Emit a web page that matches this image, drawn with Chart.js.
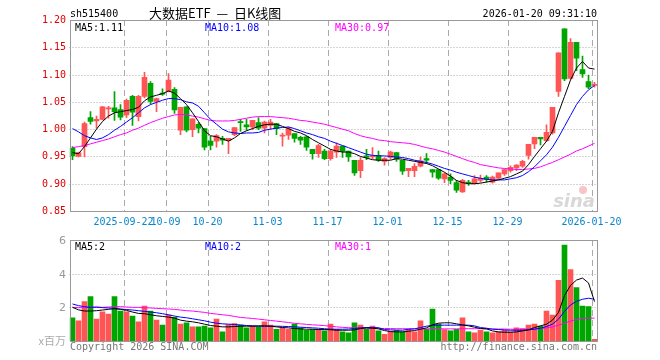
<!DOCTYPE html>
<html>
<head>
<meta charset="utf-8">
<script src="https://cdn.jsdelivr.net/npm/chart.js@4.4.1/dist/chart.umd.min.js"></script>
<style>
  body { margin: 0; background: #fff; }
  #wrap { position: relative; width: 660px; height: 360px; }
  canvas { position: absolute; left: 0; }
</style>
</head>
<body>
<div id="wrap">
  <canvas id="kline" width="660" height="232" style="top:0"></canvas>
  <canvas id="vol" width="660" height="128" style="top:232px"></canvas>
</div>
<script>
// trading days shown on the chart
const dates = [
  '2025-09-09','2025-09-10','2025-09-11','2025-09-12','2025-09-15','2025-09-16','2025-09-17','2025-09-18','2025-09-19',
  '2025-09-22','2025-09-23','2025-09-24','2025-09-25','2025-09-26','2025-09-29','2025-09-30',
  '2025-10-09','2025-10-10','2025-10-13','2025-10-14','2025-10-15','2025-10-16','2025-10-17',
  '2025-10-20','2025-10-21','2025-10-22','2025-10-23','2025-10-24','2025-10-27','2025-10-28','2025-10-29','2025-10-30','2025-10-31',
  '2025-11-03','2025-11-04','2025-11-05','2025-11-06','2025-11-07','2025-11-10','2025-11-11','2025-11-12','2025-11-13','2025-11-14',
  '2025-11-17','2025-11-18','2025-11-19','2025-11-20','2025-11-21','2025-11-24','2025-11-25','2025-11-26','2025-11-27','2025-11-28',
  '2025-12-01','2025-12-02','2025-12-03','2025-12-04','2025-12-05','2025-12-08','2025-12-09','2025-12-10','2025-12-11','2025-12-12',
  '2025-12-15','2025-12-16','2025-12-17','2025-12-18','2025-12-19','2025-12-22','2025-12-23','2025-12-24','2025-12-25','2025-12-26',
  '2025-12-29','2025-12-30','2025-12-31','2026-01-05','2026-01-06','2026-01-07','2026-01-08','2026-01-09',
  '2026-01-12','2026-01-13','2026-01-14','2026-01-15','2026-01-16','2026-01-19','2026-01-20'
];
const tickIdx  = [9, 16, 23, 33, 43, 53, 63, 73, 87];
const tickText = ['2025-09-22','10-09','10-20','11-03','11-17','12-01','12-15','12-29','2026-01-20'];
const priceTicks = [1.20, 1.15, 1.10, 1.05, 1.00, 0.95, 0.90, 0.85];
const volTicks = [6, 4, 2];

const open = [0.965,0.950,0.968,1.021,1.015,1.018,1.037,1.039,1.036,1.026,1.060,1.023,1.060,1.084,1.051,1.066,1.069,1.073,0.998,1.041,
  0.999,1.009,1.001,0.978,0.978,0.983,0.979,0.990,1.013,1.008,1.004,1.012,1.002,1.007,1.010,0.987,0.989,0.992,0.985,0.986,
  0.963,0.955,0.960,0.946,0.958,0.969,0.960,0.943,0.924,0.951,0.949,0.952,0.941,0.948,0.957,0.943,0.924,0.924,0.932,0.946,
  0.926,0.926,0.909,0.912,0.902,0.885,0.903,0.900,0.906,0.912,0.903,0.910,0.918,0.924,0.929,0.932,0.952,0.973,0.985,0.979,
  0.993,1.069,1.184,1.093,1.159,1.109,1.087,1.080];
const high = [0.968,0.958,1.013,1.032,1.024,1.042,1.042,1.069,1.045,1.055,1.062,1.062,1.104,1.087,1.057,1.074,1.102,1.076,1.040,1.041,
  1.019,1.012,1.001,0.987,0.990,0.987,0.983,1.003,1.018,1.018,1.016,1.021,1.015,1.018,1.010,0.993,1.004,0.992,0.987,0.987,
  0.963,0.972,0.963,0.963,0.975,0.969,0.960,0.943,0.948,0.963,0.966,0.960,0.948,0.960,0.957,0.943,0.928,0.937,0.949,0.955,
  0.926,0.926,0.920,0.918,0.906,0.908,0.906,0.915,0.916,0.915,0.914,0.920,0.927,0.933,0.935,0.943,0.972,0.985,0.985,1.008,
  1.040,1.140,1.184,1.166,1.159,1.134,1.099,1.086];
const low = [0.944,0.949,0.949,1.009,1.002,1.017,1.020,1.016,1.017,1.021,1.007,1.015,1.057,1.046,1.032,1.062,1.068,1.029,0.990,0.995,
  0.986,0.993,0.962,0.962,0.967,0.972,0.955,0.988,0.996,0.998,0.999,0.999,0.993,1.000,0.990,0.969,0.981,0.976,0.972,0.961,
  0.945,0.948,0.944,0.943,0.948,0.948,0.941,0.915,0.911,0.944,0.946,0.941,0.934,0.945,0.941,0.917,0.913,0.913,0.931,0.937,
  0.912,0.908,0.902,0.900,0.884,0.884,0.897,0.899,0.903,0.903,0.901,0.909,0.915,0.921,0.924,0.930,0.945,0.964,0.971,0.977,
  0.991,1.060,1.089,1.092,1.107,1.095,1.074,1.077];
const close = [0.951,0.957,1.010,1.014,1.018,1.041,1.039,1.032,1.022,1.053,1.031,1.060,1.095,1.051,1.056,1.064,1.090,1.035,1.040,0.998,
  1.019,1.002,0.967,0.970,0.988,0.980,0.983,1.003,1.012,1.004,1.016,1.002,1.013,1.013,1.001,0.989,1.001,0.983,0.980,0.967,
  0.955,0.970,0.946,0.960,0.969,0.959,0.949,0.920,0.943,0.948,0.951,0.943,0.946,0.958,0.945,0.923,0.928,0.932,0.942,0.943,
  0.921,0.910,0.918,0.906,0.888,0.906,0.901,0.909,0.910,0.908,0.912,0.920,0.926,0.930,0.934,0.941,0.972,0.985,0.982,0.994,
  1.040,1.140,1.092,1.159,1.130,1.101,1.077,1.082];

const ma5 = [0.957,0.955,0.968,0.984,1.000,1.014,1.024,1.030,1.032,1.034,1.036,1.040,1.052,1.059,1.062,1.065,1.070,1.066,1.056,1.045,
  1.030,1.014,0.997,0.988,0.986,0.982,0.978,0.984,0.992,0.997,1.001,1.005,1.008,1.009,1.009,1.005,1.001,0.996,0.993,0.988,
  0.981,0.975,0.969,0.963,0.960,0.958,0.958,0.955,0.950,0.947,0.944,0.943,0.943,0.943,0.946,0.945,0.943,0.941,0.939,0.937,
  0.933,0.927,0.921,0.914,0.906,0.902,0.900,0.900,0.901,0.903,0.905,0.907,0.910,0.913,0.918,0.923,0.935,0.950,0.964,0.978,
  0.996,1.030,1.060,1.090,1.112,1.124,1.112,1.110];
const ma10 = [1.001,0.995,0.988,0.984,0.981,0.984,0.990,0.998,1.005,1.013,1.021,1.030,1.039,1.045,1.049,1.053,1.056,1.056,1.054,1.050,
  1.048,1.042,1.030,1.018,1.009,1.000,0.995,0.993,0.992,0.993,0.993,0.994,0.998,1.000,1.002,1.003,1.004,1.001,0.997,0.993,
  0.990,0.986,0.983,0.978,0.974,0.970,0.966,0.962,0.958,0.954,0.952,0.951,0.951,0.950,0.949,0.948,0.946,0.943,0.941,0.939,
  0.936,0.932,0.928,0.925,0.921,0.918,0.915,0.912,0.910,0.908,0.907,0.907,0.907,0.909,0.911,0.915,0.922,0.931,0.942,0.953,
  0.967,0.985,1.005,1.025,1.045,1.060,1.072,1.080];
const ma30 = [0.966,0.968,0.970,0.973,0.976,0.979,0.982,0.986,0.990,0.993,0.998,1.002,1.007,1.012,1.016,1.020,1.023,1.026,1.027,1.026,
  1.024,1.022,1.019,1.016,1.015,1.015,1.015,1.016,1.018,1.020,1.022,1.023,1.023,1.023,1.022,1.021,1.020,1.018,1.016,1.015,
  1.013,1.011,1.009,1.006,1.003,1.000,0.997,0.992,0.988,0.985,0.983,0.980,0.979,0.977,0.976,0.975,0.974,0.972,0.969,0.966,
  0.964,0.961,0.958,0.954,0.950,0.946,0.942,0.939,0.935,0.933,0.931,0.929,0.928,0.927,0.926,0.926,0.927,0.928,0.931,0.935,
  0.939,0.944,0.949,0.954,0.960,0.964,0.969,0.974];

// volume, millions
const vol = [1.38,1.20,2.34,2.64,1.30,1.74,1.60,2.64,1.78,1.74,1.48,1.14,2.08,1.78,1.24,0.94,1.54,1.40,1.00,1.08,
  0.84,0.84,0.88,0.78,1.30,0.54,0.98,1.04,0.94,0.78,0.88,0.84,1.14,0.94,0.70,0.78,0.70,1.00,0.78,0.64,
  0.68,0.70,0.60,1.00,0.70,0.54,0.48,1.08,0.94,0.70,0.88,0.60,0.40,0.54,0.64,0.54,0.70,0.54,1.20,0.70,
  1.90,1.00,0.68,0.60,0.70,1.38,0.54,0.48,0.64,0.54,0.48,0.54,0.64,0.54,0.78,0.74,0.94,1.00,0.88,1.78,
  1.54,3.60,5.70,4.24,3.18,2.08,2.04,0.10];
const vma5 = [2.00,1.85,1.78,1.78,1.80,1.84,1.88,1.92,1.88,1.82,1.72,1.64,1.62,1.56,1.50,1.46,1.42,1.36,1.24,1.18,
  1.14,1.08,1.00,0.92,0.88,0.84,0.84,0.86,0.88,0.88,0.88,0.90,0.90,0.88,0.84,0.80,0.78,0.74,0.72,0.70,
  0.70,0.68,0.68,0.67,0.64,0.64,0.64,0.66,0.74,0.78,0.76,0.72,0.62,0.56,0.54,0.54,0.58,0.62,0.70,0.78,
  0.96,1.06,1.08,1.08,1.02,0.96,0.90,0.82,0.74,0.72,0.60,0.54,0.52,0.52,0.54,0.60,0.66,0.80,0.90,1.00,
  1.24,1.70,2.70,3.30,3.62,3.74,3.45,2.34];
const vma10 = [2.20,2.10,2.04,2.00,2.02,1.98,1.96,1.94,1.90,1.87,1.84,1.80,1.76,1.72,1.68,1.62,1.56,1.48,1.42,1.38,
  1.32,1.26,1.20,1.12,1.06,1.02,1.00,0.98,0.95,0.92,0.90,0.88,0.88,0.88,0.88,0.87,0.86,0.84,0.82,0.80,
  0.78,0.76,0.73,0.70,0.70,0.70,0.71,0.74,0.78,0.80,0.80,0.79,0.68,0.66,0.65,0.64,0.70,0.72,0.80,0.88,
  0.93,0.94,0.94,0.94,0.94,0.94,0.94,0.90,0.80,0.76,0.70,0.68,0.66,0.64,0.64,0.64,0.66,0.70,0.76,0.86,
  1.00,1.30,1.76,2.14,2.36,2.48,2.54,2.48];
const vma30 = [2.00,1.98,1.98,1.98,2.00,2.00,2.02,2.04,2.04,2.02,2.00,2.00,1.98,1.96,1.94,1.92,1.90,1.88,1.84,1.80,
  1.78,1.74,1.70,1.64,1.60,1.56,1.52,1.46,1.40,1.37,1.34,1.30,1.26,1.22,1.18,1.14,1.10,1.05,1.02,0.99,
  0.96,0.94,0.91,0.88,0.84,0.81,0.79,0.78,0.77,0.76,0.76,0.75,0.74,0.74,0.73,0.73,0.73,0.72,0.72,0.72,
  0.73,0.73,0.72,0.72,0.72,0.73,0.73,0.73,0.73,0.72,0.72,0.71,0.71,0.70,0.70,0.70,0.71,0.72,0.74,0.78,
  0.84,0.94,1.06,1.18,1.28,1.34,1.36,1.36];

const RED = '#ff5555', GREEN = '#00a600';
const MONO = '10px "DejaVu Sans Mono", monospace';
const colors = close.map((c, i) => c >= open[i] ? RED : GREEN);

// vertical dashed lines sit on the left edge of each labelled day
function dateLines(chart) {
  const { ctx, chartArea: a, scales: { x } } = chart;
  const slot = (a.right - a.left) / dates.length;
  ctx.save();
  ctx.strokeStyle = '#aaa';
  ctx.lineWidth = 1;
  ctx.setLineDash([6, 4]);
  tickIdx.forEach(i => {
    const px = Math.round(x.getPixelForValue(i) - slot / 2) + 0.5;
    ctx.beginPath(); ctx.moveTo(px, a.top); ctx.lineTo(px, a.bottom); ctx.stroke();
  });
  ctx.restore();
}

function dotLines(chart, values) {
  const { ctx, chartArea: a, scales: { y } } = chart;
  ctx.save();
  ctx.strokeStyle = '#aaa';
  ctx.lineWidth = 1;
  ctx.setLineDash([1, 2]);
  values.forEach(v => {
    const py = Math.round(y.getPixelForValue(v)) + 0.5;
    ctx.beginPath(); ctx.moveTo(a.left, py); ctx.lineTo(a.right, py); ctx.stroke();
  });
  ctx.restore();
}

function frame(chart) {
  const { ctx, chartArea: a } = chart;
  ctx.save();
  ctx.strokeStyle = '#999';
  ctx.lineWidth = 1;
  ctx.strokeRect(Math.round(a.left) + 0.5, Math.round(a.top) + 0.5,
    Math.round(a.right) - Math.round(a.left) - 1, Math.round(a.bottom) - Math.round(a.top));
  ctx.restore();
}

function text(ctx, s, x, y, color, font, align) {
  ctx.fillStyle = color;
  ctx.font = font || MONO;
  ctx.textAlign = align || 'left';
  ctx.fillText(s, x, y);
}

const klineDeco = {
  id: 'klineDeco',
  beforeDatasetsDraw(chart) {
    dotLines(chart, priceTicks.slice(1, -1));
    dateLines(chart);
    const { ctx } = chart;
    ctx.save();
    ctx.font = 'italic bold 18px "DejaVu Sans", sans-serif';
    ctx.fillStyle = '#d8d8d8';
    ctx.textAlign = 'right';
    ctx.fillText('sina', 595, 207);
    ctx.fillStyle = 'rgba(240,140,140,0.5)';
    ctx.beginPath(); ctx.arc(583, 190, 4, 0, Math.PI * 2); ctx.fill();
    ctx.restore();
  },
  afterDraw(chart) {
    const { ctx, chartArea: a, scales: { x, y } } = chart;
    frame(chart);
    ctx.save();
    ctx.textBaseline = 'alphabetic';
    text(ctx, 'sh515400', 70, 17, '#000');
    text(ctx, '大数据ETF  —  日K线图', 149, 18, '#000', '13px "Noto Sans CJK SC", sans-serif');
    text(ctx, '2026-01-20 09:31:10', 597, 17, '#000', MONO, 'right');
    text(ctx, 'MA5:' + ma5[ma5.length - 1].toFixed(2), 75, 31, '#000');
    text(ctx, 'MA10:' + ma10[ma10.length - 1].toFixed(2), 205, 31, '#0000ff');
    text(ctx, 'MA30:' + ma30[ma30.length - 1].toFixed(2), 335, 31, '#ff00ff');
    ctx.textBaseline = 'middle';
    priceTicks.forEach(v => text(ctx, v.toFixed(2), 66, Math.round(y.getPixelForValue(v)), '#e00000', MONO, 'right'));
    ctx.textBaseline = 'alphabetic';
    const slot = (a.right - a.left) / dates.length;
    tickIdx.forEach((i, k) => {
      const px = x.getPixelForValue(i) - slot / 2;
      text(ctx, tickText[k], px, 225, '#0a86cf', MONO, 'center');
    });
    ctx.restore();
  }
};

const volDeco = {
  id: 'volDeco',
  beforeDatasetsDraw(chart) {
    dotLines(chart, [4, 2]);
    dateLines(chart);
  },
  afterDraw(chart) {
    const { ctx, scales: { y } } = chart;
    frame(chart);
    ctx.save();
    text(ctx, 'MA5:' + Math.floor(vma5[vma5.length - 1]), 75, 18, '#000');
    text(ctx, 'MA10:' + Math.floor(vma10[vma10.length - 1]), 205, 18, '#0000ff');
    text(ctx, 'MA30:' + Math.floor(vma30[vma30.length - 1]), 335, 18, '#ff00ff');
    ctx.textBaseline = 'middle';
    volTicks.forEach(v => text(ctx, String(v), 66, Math.round(y.getPixelForValue(v)) + 1, '#999', '11px "DejaVu Sans", sans-serif', 'right'));
    ctx.textBaseline = 'alphabetic';
    text(ctx, 'x百万', 66, 113, '#aaa', '11px "Noto Sans CJK SC", sans-serif', 'right');
    text(ctx, 'Copyright 2026 SINA.COM', 70, 118, '#777');
    text(ctx, 'http://finance.sina.com.cn', 597, 118, '#777', MONO, 'right');
    ctx.restore();
  }
};

function maLine(data, color) {
  return { type: 'line', data, borderColor: color, borderWidth: 1, pointRadius: 0, tension: 0, order: 0 };
}

const common = {
  responsive: false,
  animation: false,
  devicePixelRatio: 1,
  events: [],
  plugins: { legend: { display: false }, tooltip: { enabled: false } }
};

new Chart(document.getElementById('kline'), {
  type: 'bar',
  data: {
    labels: dates,
    datasets: [
      maLine(ma5, '#000000'),
      maLine(ma10, '#0000ff'),
      maLine(ma30, '#ff00ff'),
      { data: open.map((o, i) => [o, close[i]]), backgroundColor: colors, barThickness: 5, minBarLength: 1, grouped: false, order: 1 },
      { data: low.map((l, i) => [l, high[i]]), backgroundColor: colors, barThickness: 1, grouped: false, order: 2 }
    ]
  },
  options: {
    ...common,
    layout: { padding: { left: 69.5, right: 62.5, top: 20, bottom: 21 } },
    scales: {
      x: { display: false, offset: true },
      y: { display: false, min: 0.85, max: 1.20 }
    }
  },
  plugins: [klineDeco]
});

new Chart(document.getElementById('vol'), {
  type: 'bar',
  data: {
    labels: dates,
    datasets: [
      maLine(vma5, '#000000'),
      maLine(vma10, '#0000ff'),
      maLine(vma30, '#ff00ff'),
      { data: vol, backgroundColor: colors, barThickness: 5, grouped: false, order: 1 }
    ]
  },
  options: {
    ...common,
    layout: { padding: { left: 69.5, right: 62.5, top: 8, bottom: 19 } },
    scales: {
      x: { display: false, offset: true },
      y: { display: false, min: 0, max: 6 }
    }
  },
  plugins: [volDeco]
});
</script>
</body>
</html>
